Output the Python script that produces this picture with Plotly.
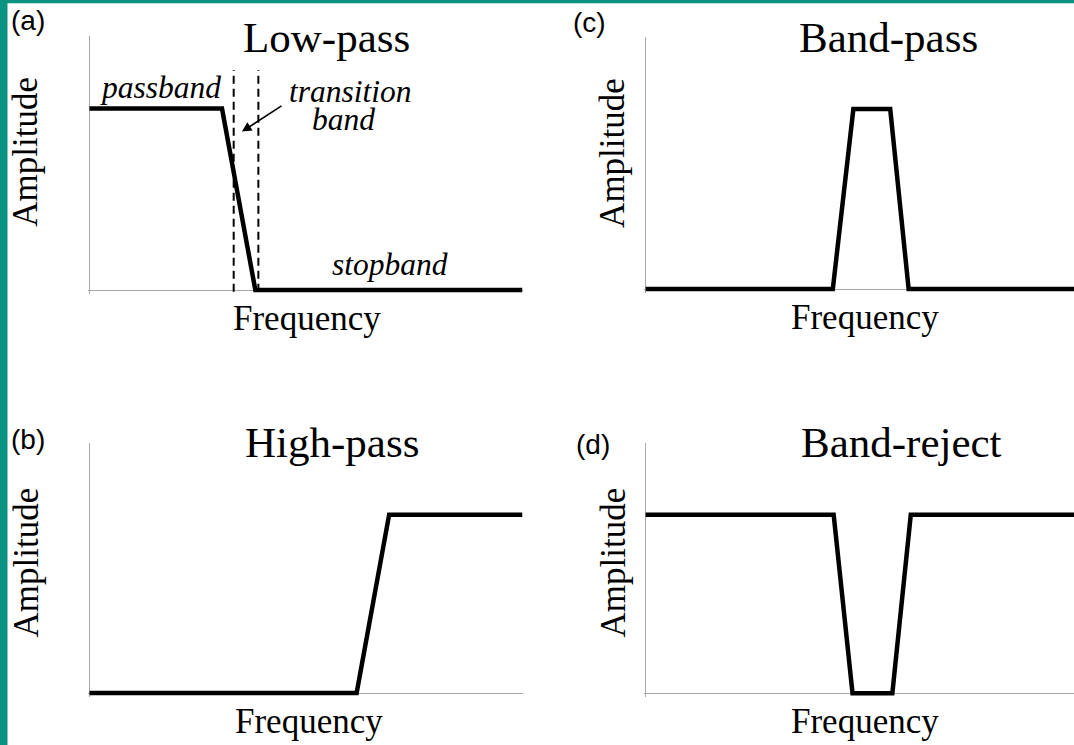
import plotly.graph_objects as go

W, H = 1074, 745

# ---- data (frequency in arbitrary units 0-100, amplitude normalised, passband = 1) ----
lp_freq = [0, 30.6, 38.3, 100]
lp_amp = [1, 1, 0, 0]
hp_freq = [0, 61.7, 69.2, 100]
hp_amp = [0, 0, 1, 1]
bp_freq = [0, 43.7, 48.5, 57.1, 61.4, 100]
bp_amp = [0, 0, 1, 1, 0, 0]
br_freq = [0, 43.9, 48.3, 57.6, 61.9, 100]
br_amp = [1, 1, 0, 0, 1, 1]
transition_edges = [33.3, 39.0]
dash_amp = [-0.01, 1.213]

titles = ["Low-pass", "High-pass", "Band-pass", "Band-reject"]
panel_tags = ["(a)", "(b)", "(c)", "(d)"]
x_title = "Frequency"
y_title = "Amplitude"

TEAL = "#0b9382"
AXIS_GREY = "#a8a8a8"
XR = [-0.3, 100]
YR = [-0.02, 1.4]
YTOP = 1.4


def xdom(p0, p1):
    """p0: pixel of freq 0, p1: pixel of freq 100."""
    s = (p1 - p0) / 100.0
    left = p0 + XR[0] * s
    right = p0 + XR[1] * s
    return [max(0.0, left / W), min(1.0, right / W)]


def ydom(p0, p1):
    """p0: pixel of amp 0, p1: pixel of amp YTOP."""
    s = (p0 - p1) / YTOP
    bottom = p0 - YR[0] * s
    top = p0 - YR[1] * s
    return [1 - bottom / H, 1 - top / H]


# panel pixel geometry: (x of 0, x of 100, y of 0, y of top)
geom = {
    "a": (89.5, 522.5, 290, 36),
    "b": (89.5, 522.5, 693, 443.3),
    "c": (645.6, 1074, 289, 37),
    "d": (645.6, 1074, 693.3, 443.3),
}
axis_ids = {"a": "", "b": "2", "c": "3", "d": "4"}

fig = go.Figure()

series = {"a": (lp_freq, lp_amp), "b": (hp_freq, hp_amp),
          "c": (bp_freq, bp_amp), "d": (br_freq, br_amp)}

for key, (fx, fy) in series.items():
    sid = axis_ids[key]
    fig.add_trace(go.Scatter(x=fx, y=fy, mode="lines",
                             line=dict(color="black", width=4.5),
                             xaxis="x" + sid, yaxis="y" + sid,
                             showlegend=False, hoverinfo="skip"))

for xe in transition_edges:
    fig.add_trace(go.Scatter(x=[xe, xe], y=dash_amp, mode="lines",
                             line=dict(color="black", width=2, dash="8px,5px"),
                             xaxis="x", yaxis="y", showlegend=False,
                             hoverinfo="skip"))

layout_axes = {}
for key, (px0, px1, py0, py1) in geom.items():
    sid = axis_ids[key]
    xa = "xaxis" + sid
    ya = "yaxis" + sid
    layout_axes[xa] = dict(domain=xdom(px0, px1), range=XR, showgrid=False,
                           showline=False, showticklabels=False, ticks="",
                           zeroline=True, zerolinecolor=AXIS_GREY,
                           zerolinewidth=1.2, anchor="y" + sid, fixedrange=True)
    layout_axes[ya] = dict(domain=ydom(py0, py1), range=YR, showgrid=False,
                           showline=False, showticklabels=False, ticks="",
                           zeroline=True, zerolinecolor=AXIS_GREY,
                           zerolinewidth=1.2, anchor="x" + sid, fixedrange=True)

fig.update_layout(**layout_axes)

ann = []


def pa(x, y, text, size, family="Liberation Serif", angle=0):
    ann.append(dict(x=x / W, y=1 - y / H, xref="paper", yref="paper",
                    text=text, showarrow=False, xanchor="center",
                    yanchor="middle", textangle=angle,
                    font=dict(family=family, size=size, color="black")))


# titles
pa(326, 37.5, titles[0], 43)
pa(331.5, 442.5, titles[1], 43)
pa(888, 37.5, titles[2], 43)
pa(902, 442.5, titles[3], 43)
# panel tags
pa(27.5, 20.8, panel_tags[0], 28, family="Liberation Sans")
pa(27.5, 439.5, panel_tags[1], 28, family="Liberation Sans")
pa(589.4, 22, panel_tags[2], 28, family="Liberation Sans")
pa(592.8, 444.5, panel_tags[3], 28, family="Liberation Sans")
# axis titles
pa(307, 318, x_title, 35)
pa(309, 721.2, x_title, 35)
pa(865, 317.5, x_title, 35)
pa(865.3, 721.5, x_title, 35)
pa(26, 151.7, y_title, 35, angle=-90)
pa(26, 562.5, y_title, 35, angle=-90)
pa(612.4, 152.5, y_title, 35, angle=-90)
pa(613, 562.5, y_title, 35, angle=-90)
# low-pass labels
pa(160.8, 87, "<i>passband</i>", 31.5)
pa(350.5, 91.5, "<i>transition</i>", 31.5)
pa(343.3, 119.5, "<i>band</i>", 31.5)
pa(390, 264.4, "<i>stopband</i>", 31.5)

# arrow pointing into the transition band
ann.append(dict(x=35.2, y=0.873, xref="x", yref="y", ax=44.7, ay=1.02,
                axref="x", ayref="y", text="", showarrow=True,
                arrowhead=2, arrowsize=1.2, arrowwidth=1.6,
                arrowcolor="black"))

shapes = [
    dict(type="rect", xref="paper", yref="paper", x0=0, x1=7.5 / W, y0=0, y1=1,
         fillcolor=TEAL, line=dict(width=0), layer="above"),
    dict(type="rect", xref="paper", yref="paper", x0=0, x1=1, y0=1 - 3.3 / H,
         y1=1, fillcolor=TEAL, line=dict(width=0), layer="above"),
]

fig.update_layout(width=W, height=H, autosize=False,
                  margin=dict(l=0, r=0, t=0, b=0, pad=0),
                  paper_bgcolor="white", plot_bgcolor="white",
                  annotations=ann, shapes=shapes, showlegend=False)

fig.write_html("out.html", config={"displayModeBar": False},
               post_script="document.body.style.margin='0';"
                           "document.body.style.overflow='hidden';")
